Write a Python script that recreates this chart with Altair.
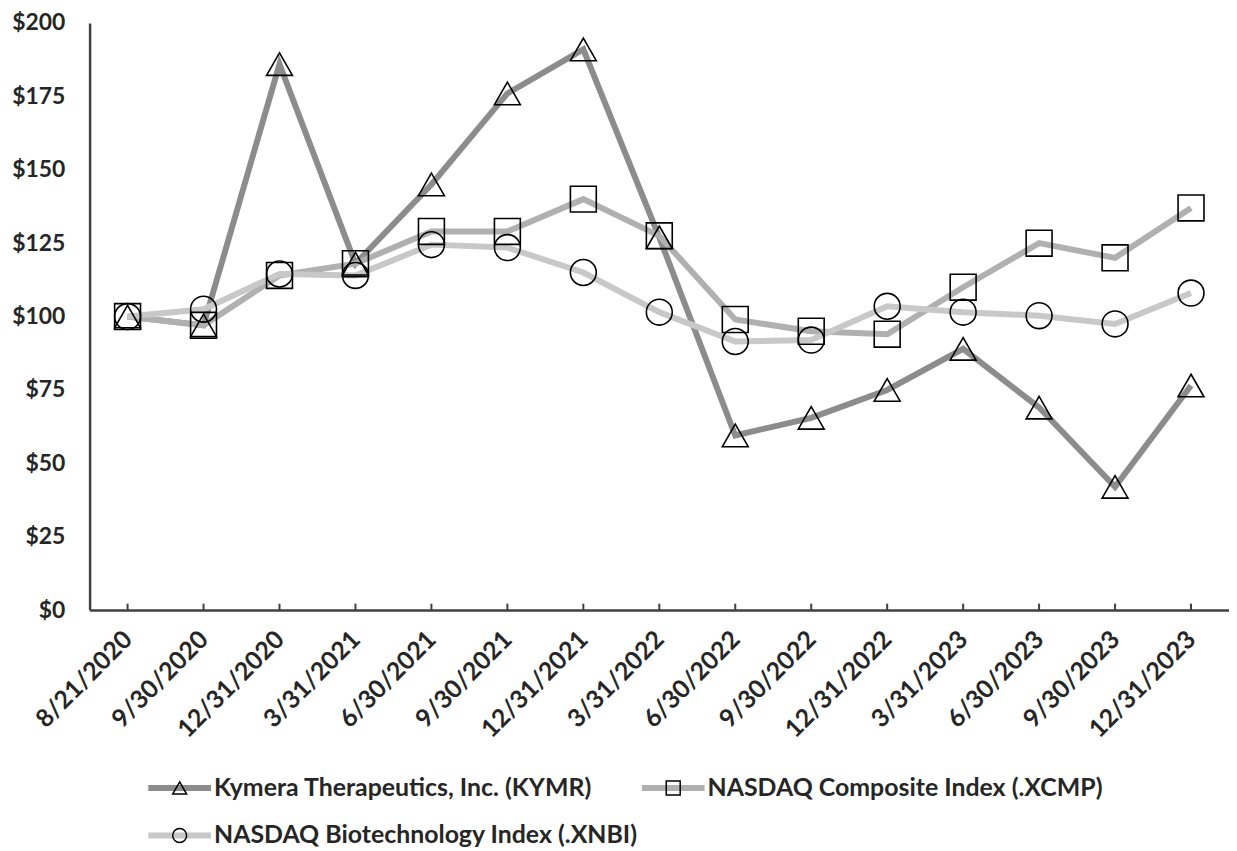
import altair as alt
import pandas as pd

dates = ["8/21/2020", "9/30/2020", "12/31/2020", "3/31/2021", "6/30/2021", "9/30/2021",
         "12/31/2021", "3/31/2022", "6/30/2022", "9/30/2022", "12/31/2022", "3/31/2023",
         "6/30/2023", "9/30/2023", "12/31/2023"]
series_names = ["Kymera Therapeutics, Inc. (KYMR)", "NASDAQ Composite Index (.XCMP)",
                "NASDAQ Biotechnology Index (.XNBI)"]
kymr = [100, 97, 186, 118, 145, 176, 191, 127, 59.5, 65.5, 75, 89, 69, 42, 76.5]
xcmp = [100, 97, 114, 118, 129, 129, 140, 127.5, 99, 95, 94, 110, 125, 120, 137]
xnbi = [100, 102.5, 114.5, 114, 124.5, 123.5, 115, 101.5, 91.5, 92, 103.5, 101.5, 100.3, 97.5, 108]
y_ticks = [0, 25, 50, 75, 100, 125, 150, 175, 200]

line_colors = ["#8c8c8c", "#b0b0b0", "#c8c8c8"]

rows = []
for name, vals in zip(series_names, [kymr, xcmp, xnbi]):
    for d, v in zip(dates, vals):
        rows.append({"date": d, "value": v, "series": name})
df = pd.DataFrame(rows)
ticks_df = pd.DataFrame({"date": dates})

FONT = "Lato"
k = 0.209
tri = f"M0,{-0.87*k:.3f}L{k:.3f},{0.87*k:.3f}L{-k:.3f},{0.87*k:.3f}Z"
sq = f"M{-k:.3f},{-k:.3f}H{k:.3f}V{k:.3f}H{-k:.3f}Z"
cir = (f"M{k:.3f},0A{k:.3f},{k:.3f},0,1,1,{-k:.3f},0A{k:.3f},{k:.3f},0,1,1,{k:.3f},0Z")
shapes = [tri, sq, cir]

x_scale = alt.Scale(type="point", padding=0.5)
x_enc = alt.X("date:N", sort=dates, scale=x_scale,
              axis=alt.Axis(title=None, labelAngle=-45, labelFont=FONT, labelFontWeight="bold",
                            labelFontSize=25, labelColor="#262626", labelPadding=25,
                            labelAlign="right", labelBaseline="middle", ticks=False,
                            domainColor="#404040", domainWidth=2.5))
y_enc = alt.Y("value:Q", scale=alt.Scale(domain=[0, 200], nice=False),
              axis=alt.Axis(title=None, values=y_ticks, labelExpr="'$' + datum.value",
                            labelFont=FONT, labelFontWeight="bold", labelFontSize=23,
                            labelColor="#262626", ticks=False, labelPadding=25, grid=False,
                            domainColor="#404040", domainWidth=2.5))

legend_common = dict(title=None, orient="none", legendX=56, legendY=734, columns=2,
                     direction="horizontal", labelFont=FONT, labelFontWeight="bold",
                     labelFontSize=25, labelOffset=0, columnPadding=-21, rowPadding=-7,
                     padding=0, labelLimit=700)

base = alt.Chart(df)

lines = base.mark_line(strokeWidth=6).encode(
    x=x_enc, y=y_enc,
    color=alt.Color("series:N", sort=series_names,
                    scale=alt.Scale(range=line_colors),
                    legend=alt.Legend(symbolType="stroke", symbolSize=3969, symbolStrokeWidth=6,
                                      labelColor="#262626", **legend_common)),
)

points = base.transform_calculate(s2="datum.series").mark_point(
    filled=False, stroke="black", strokeWidth=1.6, size=15500, opacity=1
).encode(
    x=alt.X("date:N", sort=dates, scale=x_scale), y="value:Q",
    shape=alt.Shape("s2:N", sort=series_names, scale=alt.Scale(range=shapes),
                    legend=alt.Legend(symbolSize=4489, symbolStrokeWidth=1.5,
                                      symbolStrokeColor="black", symbolFillColor="white",
                                      labelOpacity=0, **legend_common)),
)

tick_rules = alt.Chart(ticks_df).mark_rule(color="#404040", strokeWidth=2).encode(
    x=alt.X("date:N", sort=dates, scale=x_scale), y=alt.datum(0), y2=alt.datum(2.2)
)

chart = alt.layer(lines, points, tick_rules).properties(
    width=1145, height=590, padding={"left": 3, "top": 2, "right": 0, "bottom": 0}
).resolve_legend(color="independent", shape="independent").configure_view(stroke=None)

chart.save("out.html", embed_options={"renderer": "svg", "actions": False})
